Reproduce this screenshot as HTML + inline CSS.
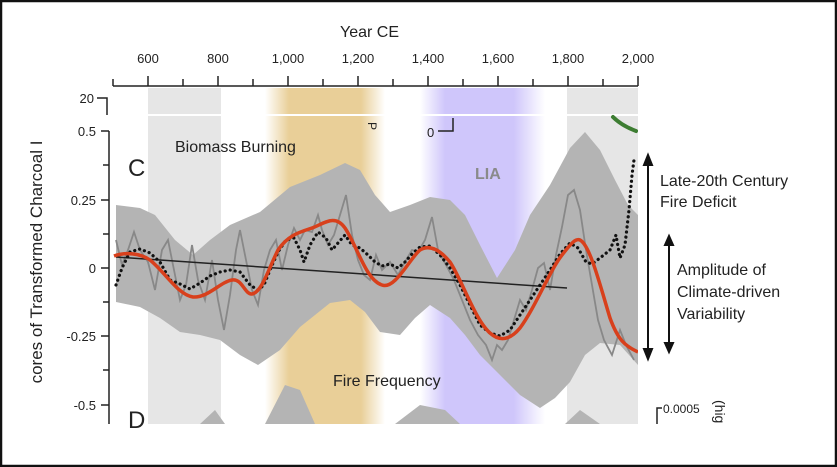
<!DOCTYPE html>
<html><head><meta charset="utf-8"><style>
html,body{margin:0;padding:0;background:#fff}
svg{display:block}
text{font-family:"Liberation Sans",sans-serif;fill:#222}
</style></head><body>
<svg width="837" height="467" viewBox="0 0 837 467" xmlns="http://www.w3.org/2000/svg">
<defs>
<linearGradient id="og" x1="0" x2="1"><stop offset="0" stop-color="#e9cf98" stop-opacity="0"/><stop offset="0.2" stop-color="#e9cf98"/><stop offset="0.8" stop-color="#e9cf98"/><stop offset="1" stop-color="#e9cf98" stop-opacity="0"/></linearGradient>
<linearGradient id="pg" x1="0" x2="1"><stop offset="0" stop-color="#cfc6fb" stop-opacity="0"/><stop offset="0.2" stop-color="#cfc6fb"/><stop offset="0.75" stop-color="#cfc6fb"/><stop offset="1" stop-color="#cfc6fb" stop-opacity="0"/></linearGradient>
<clipPath id="cp"><rect x="112" y="88" width="526" height="336"/></clipPath>
</defs>
<rect x="1" y="1" width="835" height="465" fill="#fff" stroke="#111" stroke-width="2.5"/>
<text x="340" y="37" font-size="16">Year CE</text>
<g font-size="13" text-anchor="middle">
<text x="148" y="63">600</text><text x="218" y="63">800</text><text x="288" y="63">1,000</text><text x="358" y="63">1,200</text><text x="428" y="63">1,400</text><text x="498" y="63">1,600</text><text x="568" y="63">1,800</text><text x="638" y="63">2,000</text>
</g>
<g stroke="#222" stroke-width="1.5">
<line x1="113" y1="86" x2="638" y2="86"/>
<line x1="113" y1="86" x2="113" y2="79"/><line x1="148" y1="86" x2="148" y2="76"/><line x1="183" y1="86" x2="183" y2="79"/><line x1="218" y1="86" x2="218" y2="76"/><line x1="253" y1="86" x2="253" y2="79"/><line x1="288" y1="86" x2="288" y2="76"/><line x1="323" y1="86" x2="323" y2="79"/><line x1="358" y1="86" x2="358" y2="76"/><line x1="393" y1="86" x2="393" y2="79"/><line x1="428" y1="86" x2="428" y2="76"/><line x1="463" y1="86" x2="463" y2="79"/><line x1="498" y1="86" x2="498" y2="76"/><line x1="533" y1="86" x2="533" y2="79"/><line x1="568" y1="86" x2="568" y2="76"/><line x1="603" y1="86" x2="603" y2="79"/><line x1="638" y1="86" x2="638" y2="76"/>
</g>
<g clip-path="url(#cp)">
<rect x="148" y="88" width="73" height="336" fill="#e6e6e6"/>
<rect x="265" y="88" width="120" height="336" fill="url(#og)"/>
<rect x="420" y="88" width="125" height="336" fill="url(#pg)"/>
<rect x="567" y="88" width="71" height="336" fill="#e6e6e6"/>
<line x1="112" y1="115" x2="638" y2="115" stroke="#fff" stroke-width="2"/>
<path d="M116,205 L140,208 L155,215 L175,240 L193,255 L210,240 L230,225 L260,212 L290,187 L320,175 L345,163 L360,170 L375,195 L390,212 L410,205 L430,197 L450,200 L465,215 L480,245 L497,278 L515,250 L530,215 L550,185 L570,148 L585,132 L600,150 L615,180 L628,205 L638,215 L638,365 L620,345 L600,343 L585,355 L570,382 L555,398 L540,408 L520,395 L500,375 L480,355 L465,335 L450,318 L430,305 L415,318 L400,335 L380,332 L365,312 L350,300 L330,303 L300,327 L280,350 L258,365 L240,355 L220,340 L200,335 L180,332 L160,318 L140,307 L116,302 Z" fill="#b4b4b4"/>
<path d="M265,424 L285,385 L300,390 L315,424 Z M395,424 L420,405 L445,410 L460,424 Z M200,424 L215,410 L225,424 Z M565,424 L580,410 L600,424 Z" fill="#b4b4b4"/>
<polyline fill="none" stroke="#888" stroke-width="1.8" points="116,240 122,265 128,250 134,232 140,250 148,262 155,290 162,250 168,240 174,270 180,300 186,285 192,245 198,280 205,300 212,260 218,300 224,330 230,295 236,250 240,230 246,260 252,290 258,305 264,270 270,250 276,240 282,270 288,245 294,228 300,240 305,230 312,232 318,215 322,230 328,245 334,235 340,215 346,195 352,235 358,260 364,275 370,280 376,255 382,270 390,262 398,275 405,262 412,250 418,252 425,240 432,217 438,250 446,265 454,280 462,300 470,320 478,335 486,345 492,360 497,345 502,350 508,340 514,320 520,300 526,310 532,290 538,268 544,263 550,290 556,255 562,227 568,195 574,190 580,210 586,250 592,285 598,320 604,340 612,355 620,330 626,345 634,360"/>
<line x1="116" y1="257" x2="567" y2="288" stroke="#222" stroke-width="1.5"/>
<polyline fill="none" stroke="#111" stroke-width="3.2" stroke-dasharray="0.1 5" stroke-linecap="round" points="116,285 122,268 130,252 140,249 150,253 160,262 170,280 180,284 190,289 200,283 210,276 220,272 230,270 240,272 250,285 258,290 264,285 270,270 278,252 286,240 294,238 300,250 304,262 310,245 318,232 326,238 332,250 338,243 345,235 352,245 360,248 368,255 375,262 382,266 390,264 398,268 405,262 412,254 420,247 430,246 440,255 450,268 460,285 470,305 480,325 490,333 500,336 510,330 520,315 530,300 540,285 550,270 560,254 570,243 578,248 586,262 592,264 600,258 610,250 616,235 620,258 625,245 629,210 632,175 634,160"/>
<path d="M114,256 C125,252 140,253 150,260 C165,272 178,295 193,297 C208,298 220,282 232,280 C242,278 245,295 252,294 C262,292 268,270 278,250 C288,235 300,232 312,228 C325,223 335,214 345,228 C358,248 366,280 382,285 C395,290 410,258 420,250 C430,244 440,250 450,262 C462,280 475,320 490,333 C500,342 510,340 520,328 C535,308 550,270 562,255 C570,245 575,238 580,240 C590,245 600,285 610,318 C618,340 625,346 638,352" fill="none" stroke="#d8401c" stroke-width="3.5"/>
<path d="M613,117 C620,124 628,128 636,131" fill="none" stroke="#3d7d32" stroke-width="4" stroke-linecap="round"/>
</g>
<g stroke="#222" stroke-width="1.5" fill="none">
<path d="M97,98 L107,98 L107,115"/>
<line x1="109" y1="131" x2="109" y2="424"/>
<line x1="101" y1="131" x2="109" y2="131"/><line x1="103" y1="165" x2="109" y2="165"/><line x1="101" y1="200" x2="109" y2="200"/><line x1="103" y1="234" x2="109" y2="234"/><line x1="101" y1="268" x2="109" y2="268"/><line x1="103" y1="302" x2="109" y2="302"/><line x1="101" y1="336" x2="109" y2="336"/><line x1="103" y1="370" x2="109" y2="370"/><line x1="101" y1="405" x2="109" y2="405"/>
<path d="M438,131 L453,131 L453,118"/>
<path d="M657,424 L657,408 L662,408"/>
</g>
<g font-size="13" text-anchor="end">
<text x="94" y="103">20</text><text x="96" y="136">0.5</text><text x="96" y="205">0.25</text><text x="96" y="273">0</text><text x="96" y="341">-0.25</text><text x="96" y="410">-0.5</text>
</g>
<text x="42" y="262" font-size="17" text-anchor="middle" transform="rotate(-90 42 262)">cores of Transformed Charcoal I</text>
<text x="175" y="152" font-size="16">Biomass Burning</text>
<text x="128" y="176" font-size="24">C</text>
<text x="128" y="428" font-size="24">D</text>
<text x="475" y="179" font-size="16" font-weight="bold" style="fill:#8a8a8a">LIA</text>
<text x="333" y="386" font-size="16">Fire Frequency</text>
<text x="427" y="137" font-size="13">0</text>
<text x="368" y="122" font-size="12" transform="rotate(90 368 122)">P</text>
<text x="663" y="413" font-size="12">0.0005</text>
<text x="715" y="400" font-size="14" transform="rotate(90 715 400)">(hig</text>
<g stroke="#111" stroke-width="2" fill="#111">
<line x1="648" y1="162" x2="648" y2="352"/>
<path d="M644,165 L648,155 L652,165 Z M644,349 L648,359 L652,349 Z"/>
<line x1="669" y1="243" x2="669" y2="345"/>
<path d="M665,245 L669,236 L673,245 Z M665,343 L669,352 L673,343 Z"/>
</g>
<g font-size="16">
<text x="660" y="186">Late-20th Century</text><text x="660" y="207">Fire Deficit</text>
<text x="677" y="275">Amplitude of</text><text x="677" y="297">Climate-driven</text><text x="677" y="319">Variability</text>
</g>
</svg>
</body></html>
